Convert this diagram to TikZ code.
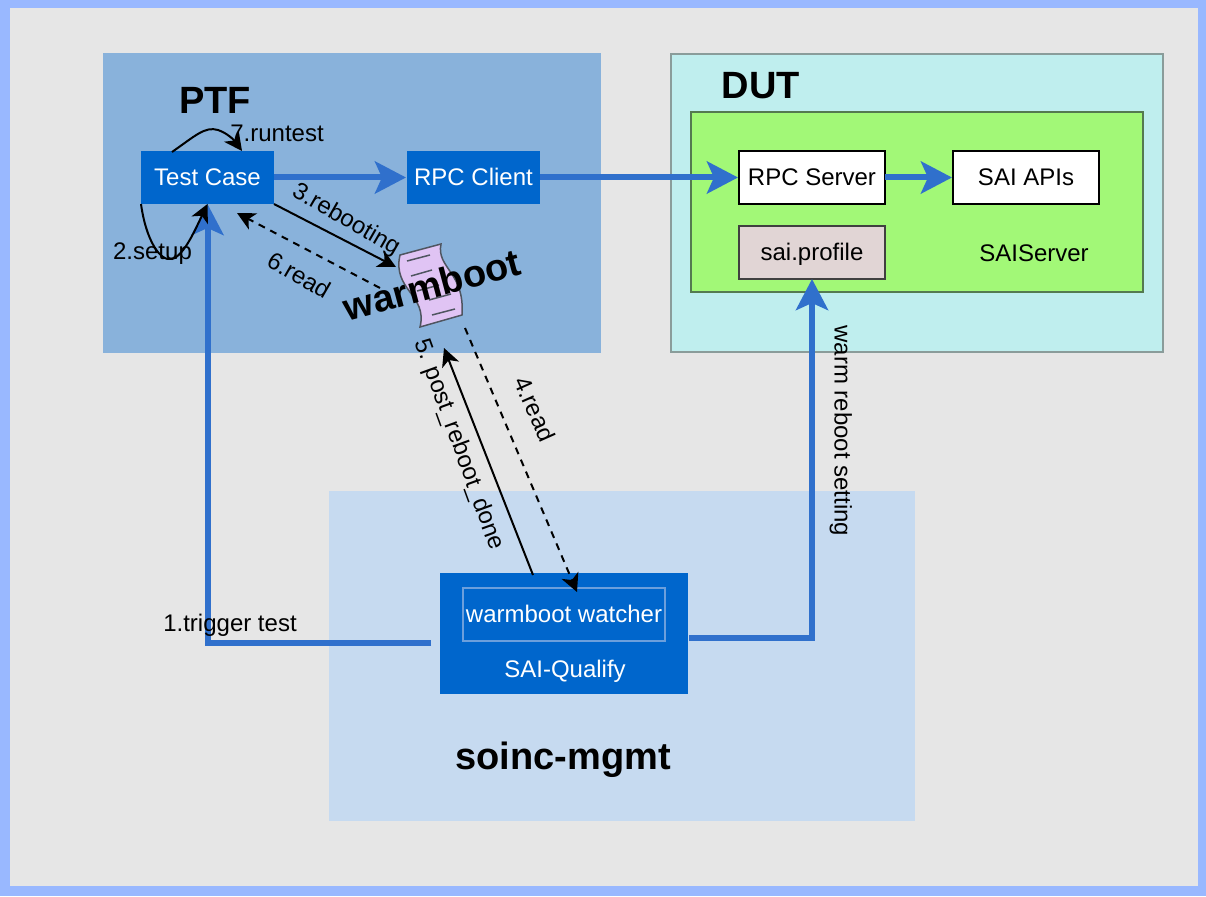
\documentclass[tikz,border=0pt]{standalone}
\usepackage{fontspec}
\setmainfont{Liberation Sans}
\usetikzlibrary{arrows.meta}
\definecolor{frameblue}{HTML}{99B8FF}
\definecolor{pagegray}{HTML}{E6E6E6}
\definecolor{ptfblue}{HTML}{89B2DB}
\definecolor{dutcyan}{HTML}{BFEEEE}
\definecolor{dutedge}{HTML}{8A9C9A}
\definecolor{saigreen}{HTML}{A2F877}
\definecolor{saiedge}{HTML}{547A50}
\definecolor{mgmtblue}{HTML}{C6DAF0}
\definecolor{boxblue}{HTML}{0066CC}
\definecolor{linkblue}{HTML}{3070CC}
\definecolor{watchedge}{HTML}{6C9FDC}
\definecolor{profilefill}{HTML}{E1D5D5}
\definecolor{docfill}{HTML}{E0C4F4}
\definecolor{docedge}{HTML}{4F5560}
\tikzset{
  x=1pt,y=-1pt,
  region/.style={inner sep=0pt,outer sep=0pt,anchor=north west},
  bluebox/.style={fill=boxblue,text=white,inner sep=0pt,outer sep=0pt,minimum width=133pt,minimum height=53pt,text height=15.5pt,text depth=0pt,font=\fontsize{24}{26}\selectfont},
  whitebox/.style={fill=white,draw=black,line width=1.5pt,inner sep=0pt,outer sep=0pt,minimum width=146pt,minimum height=53pt,text height=15.5pt,text depth=0pt,font=\fontsize{24}{26}\selectfont},
  label/.style={inner sep=0pt,text height=17pt,text depth=0pt,font=\fontsize{24}{26}\selectfont},
  title/.style={inner sep=0pt,text height=27pt,text depth=0pt,font=\bfseries\fontsize{38}{40}\selectfont},
  thick link/.style={draw=linkblue,line width=6pt,-{Stealth[length=31pt,width=32pt,inset=7pt]}},
  thin link/.style={draw=black,line width=2pt,-{Stealth[length=18pt,width=18pt,inset=5pt]}},
  dash link/.style={thin link,dash pattern=on 7pt off 6pt},
}
\begin{document}
\begin{tikzpicture}
\useasboundingbox (0,0) rectangle (1206,896);
\fill[frameblue] (0,0) rectangle (1206,896);
\fill[pagegray] (10,8) rectangle (1198,886);
% regions
\node[region,fill=ptfblue,minimum width=498pt,minimum height=300pt] (ptf) at (103,53) {};
\node[region,fill=dutcyan,draw=dutedge,line width=1.5pt,minimum width=492pt,minimum height=298pt] (dut) at (671,54) {};
\node[region,fill=saigreen,draw=saiedge,line width=1.5pt,minimum width=452pt,minimum height=180pt] (sai) at (691,112) {};
\node[region,fill=mgmtblue,minimum width=586pt,minimum height=330pt] (mgmt) at (329,491) {};
% titles
\node[title] (ptft) at (215,100) {PTF};
\node[title] (dutt) at (761,85) {DUT};
\node[title] (mgmtt) at (563,756) {soinc-mgmt};
% boxes
\node[bluebox] (tc) at (207.5,177.5) {Test Case};
\node[bluebox] (rc) at (473.5,177.5) {RPC Client};
\node[whitebox] (rs) at (812,177.5) {RPC Server};
\node[whitebox] (api) at (1026,177.5) {SAI APIs};
\node[whitebox,fill=profilefill,draw=black!75] (prof) at (812,252.5) {sai.profile};
\node[label] (saiserver) at (1034,253) {SAIServer};
\node[region,fill=boxblue,minimum width=248pt,minimum height=121pt] (sq) at (440,573) {};
\node[region,draw=watchedge,line width=1.5pt,text=white,minimum width=202pt,minimum height=53pt,text height=15.5pt,text depth=0pt,font=\fontsize{24}{26}\selectfont] (ww) at (463,588) {warmboot watcher};
\node[label,text=white] (sqt) at (565,669) {SAI-Qualify};
% paper sheet
\node[inner sep=0pt,minimum width=45pt,minimum height=76pt,rotate=15] (doc) at (431,285) {};
\draw[fill=docfill,draw=docedge,line width=1.5pt]
  (400,255) -- (441,244)
  .. controls (436,268) and (465,272) .. (462,315)
  -- (420,327)
  .. controls (428,295) and (392,290) .. (400,255) -- cycle;
\foreach \a/\b/\c/\d in {407/261/430/255, 411/276/432/270, 417/291/439/285, 429/300/451/294, 432/315/455/309}
  \draw[docedge,line width=1.5pt] (\a,\b) -- (\c,\d);
% free ends
\coordinate (e3) at (396,267);
\coordinate (s6) at (380,288);
\coordinate (e6) at (237,213);
\coordinate (s4) at (465,328);
\coordinate (e4) at (577,592);
\coordinate (s5) at (533,575);
\coordinate (e5) at (444,348);
\coordinate (s1) at (431,643);
\coordinate (b1) at (207.5,643);
\coordinate (s2) at (689,638);
\coordinate (b2) at (812,638);
% thick links
\draw[thick link,shorten >=1pt] (tc.east) -- (rc.west);
\draw[thick link,shorten >=1pt] (rc.east) -- (rs.west);
\draw[thick link,shorten >=1pt] (rs.east) -- (api.west);
\draw[thick link] (s1) -- (b1) -- (tc.south);
\draw[thick link] (s2) -- (b2) -- (prof.south);
% thin links
\coordinate (s7) at (172,152);
\coordinate (e7) at (242,151);
\draw[thin link] (s7) .. controls (195,136) and (205,126) .. (218,130) .. controls (227,133) and (234,140) .. (e7);
\draw[thin link] (tc.south west) .. controls (146,240) and (160,262) .. (172,259) .. controls (184,256) and (196,228) .. (tc.south);
\draw[thin link] (tc.south east) -- (e3);
\draw[dash link] (s6) -- (e6);
\draw[dash link] (s4) -- (e4);
\draw[thin link] (s5) -- (e5);
% labels
\node[label] (l7) at (277,133) {7.runtest};
\node[label] (l2) at (152.5,251) {2.setup};
\node[label,rotate=-30] (l3) at (347,218) {3.rebooting};
\node[label,rotate=-30] (l6) at (299,275) {6.read};
\node[label,rotate=-70] (l5) at (461,444) {5. post\_reboot\_done};
\node[label,rotate=-66] (l4) at (535,409) {4.read};
\node[label,rotate=-90] (l8) at (843,431) {warm reboot setting};
\node[label] (l1) at (230,623) {1.trigger test};
\node[title,rotate=15] (wb) at (432,285) {warmboot};
\end{tikzpicture}
\end{document}
